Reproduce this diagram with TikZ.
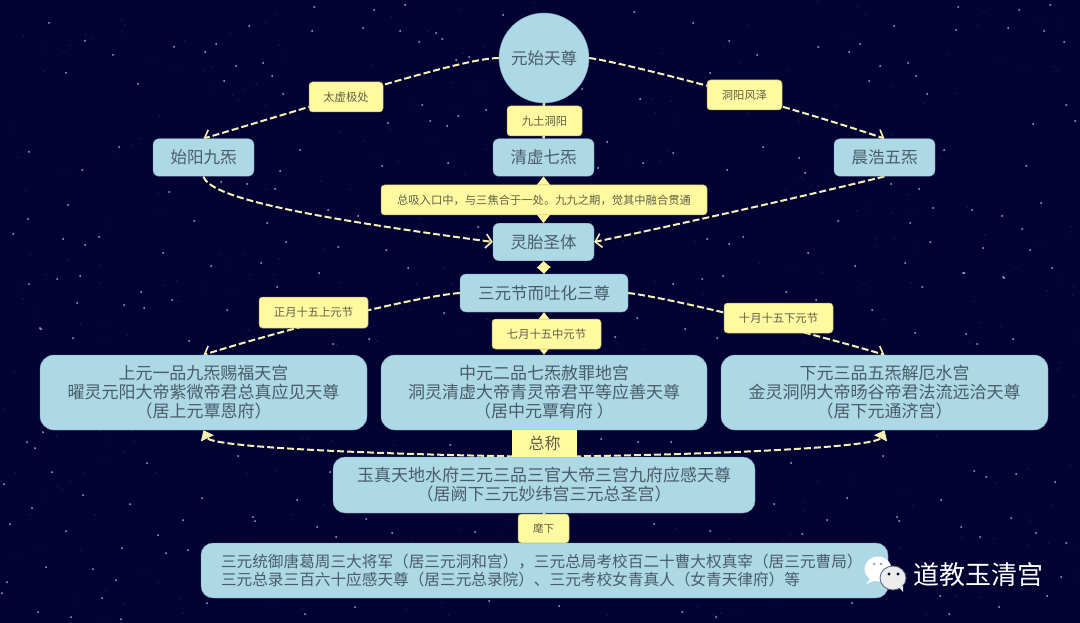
\documentclass[tikz,border=0pt]{standalone}
\usepackage{fontspec}
\setmainfont{Noto Sans CJK SC}
\usetikzlibrary{arrows.meta}
\definecolor{skyc}{HTML}{020233}
\definecolor{boxblue}{HTML}{ADD8E6}
\definecolor{boxedge}{HTML}{7F9FB0}
\definecolor{labelyel}{HTML}{FFF9A0}
\definecolor{labeledge}{HTML}{B8AC70}
\definecolor{linecream}{HTML}{F6F0B4}
\definecolor{txtblue}{HTML}{4A5C68}
\definecolor{txtyel}{HTML}{5F6048}
\definecolor{starc}{HTML}{D5D8F2}
\definecolor{starfaint}{HTML}{1C1C50}
\pgfdeclarelayer{conn}
\pgfsetlayers{conn,main}
\tikzset{
  blueshape/.style={fill=boxblue,draw=boxedge,line width=.4pt,text=txtblue,inner sep=0pt,align=center},
  smallbox/.style={blueshape,rectangle,rounded corners=6pt,minimum width=101pt,minimum height=37.5pt,font=\fontsize{16.5}{19}\selectfont},
  bigbox/.style={blueshape,rectangle,rounded corners=14pt,minimum height=75pt,font=\fontsize{17}{19}\selectfont},
  lowbox/.style={blueshape,rectangle,rounded corners=12pt,font=\fontsize{17}{19}\selectfont},
  tag/.style={rectangle,rounded corners=3.5pt,fill=labelyel,draw=labeledge,line width=.5pt,text=txtyel,inner sep=0pt,align=center,minimum height=30pt,font=\fontsize{11.3}{13}\selectfont},
  flow/.style={draw=linecream,line width=2pt,dash pattern=on 7pt off 3pt,-{Straight Barb[length=6pt,width=14pt,line width=1.6pt]}},
  upflow/.style={draw=linecream,line width=2pt,dash pattern=on 7pt off 3pt,-{Triangle[length=9pt,width=14pt,fill=labelyel]}},
  stem/.style={draw=linecream,line width=2.5pt},
  twotip/.style={draw=labelyel,line width=1pt,{Triangle[length=9pt,width=14pt,fill=labelyel]}-{Triangle[length=9pt,width=14pt,fill=labelyel]}},
  diamondtip/.style={draw=labelyel,line width=1pt,{Triangle[length=7pt,width=14pt,fill=labelyel]}-{Triangle[length=7pt,width=14pt,fill=labelyel]}},
  bright/.style={fill=starc,draw=none},
  faint/.style={fill=starfaint,draw=none}
}
\begin{document}
\begin{tikzpicture}[x=1pt,y=-1pt]
\useasboundingbox (0,0) rectangle (1080,623);

% nodes
\node[blueshape,circle,minimum size=90pt,font=\fontsize{16.5}{19}\selectfont] (top) at (544,58) {元始天尊};
\node[smallbox] (shi) at (203.5,157.5) {始阳九炁};
\node[smallbox] (qing) at (543.5,157.5) {清虚七炁};
\node[smallbox] (chen) at (884.5,157.5) {晨浩五炁};
\node[smallbox] (ling) at (543.5,242) {灵胎圣体};
\node[blueshape,rectangle,rounded corners=6pt,minimum width=168pt,minimum height=38pt,font=\fontsize{16.5}{19}\selectfont] (san) at (544,293) {三元节而吐化三尊};

\node[tag,minimum width=74pt] (taixu) at (346,97) {太虚极处};
\node[tag,minimum width=75pt] (jiutu) at (544.5,121) {九土洞阳};
\node[tag,minimum width=75pt] (dongyang) at (744.5,95) {洞阳风泽};
\node[tag,minimum width=326pt] (zongxi) at (544,200) {总吸入口中，与三焦合于一处。九九之期，觉其中融合贯通};
\node[tag,minimum width=109pt,minimum height=31pt] (zheng) at (313.5,312.5) {正月十五上元节};
\node[tag,minimum width=109pt] (qi) at (546.5,334) {七月十五中元节};
\node[tag,minimum width=109pt] (shiyue) at (778.5,318) {十月十五下元节};

\node[bigbox,minimum width=327pt] (upper) at (203.5,392.5) {\rule{0pt}{1pt}上元一品九炁赐福天宫\\曜灵元阳大帝紫微帝君总真应见天尊\\（居上元覃恩府）};
\node[bigbox,minimum width=326pt] (middle) at (544,392.5) {\rule{0pt}{1pt}中元二品七炁赦罪地宫\\洞灵清虚大帝青灵帝君平等应善天尊\\（居中元覃宥府 ）};
\node[bigbox,minimum width=327pt] (lower) at (884.5,392.5) {\rule{0pt}{1pt}下元三品五炁解厄水宫\\金灵洞阴大帝旸谷帝君法流远洽天尊\\（居下元通济宫）};

\node[lowbox,minimum width=422pt,minimum height=56pt] (yuzhen) at (544,485) {玉真天地水府三元三品三官大帝三宫九府应感天尊\\（居阙下三元妙纬宫三元总圣宫）};
\node[rectangle,fill=labelyel,text=txtyel,inner sep=0pt,minimum width=65pt,minimum height=27pt,font=\fontsize{16}{18}\selectfont] (zongcheng) at (544.5,443.5) {总称};
\node[tag,minimum width=51pt,minimum height=29pt,font=\fontsize{10.5}{12}\selectfont] (huixia) at (543.5,528.5) {麾下};
\node[lowbox,inner xsep=20pt,inner ysep=0pt,text width=647pt,align=left,minimum height=55pt,font=\fontsize{15.65}{18.3}\selectfont] (bottom) at (544.5,570.5) {三元统御唐葛周三大将军（居三元洞和宫），三元总局考校百二十曹大权真宰（居三元曹局）\\三元总录三百六十应感天尊（居三元总录院）、三元考校女青真人（女青天律府）等};

% watermark
\fill[white] (878,569) ellipse (13.5pt and 12.5pt);
\fill[white] (870,579) -- (866,584) -- (875,580.5) -- cycle;
\fill[white!85!gray] (893,578) ellipse (13pt and 12pt);
\draw[skyc!55!boxblue,line width=.8pt] (893,578) ellipse (13pt and 12pt);
\fill[white!85!gray] (899,587) -- (903,592) -- (903,586) -- cycle;
\fill[gray!70] (874,564) circle (1.5pt) (881,564) circle (1.5pt);
\fill[skyc] (889,574) circle (1.7pt) (898,574) circle (1.7pt);
\node[text=white,inner sep=0pt,font=\fontsize{26}{30}\selectfont] (mark) at (978,575) {道教玉清宫};

% sky and connectors, below the nodes
\begin{pgfonlayer}{conn}
\fill[skyc] (0,0) rectangle (1080,623);
\pgfmathsetseed{4217}
\foreach \n in {1,...,420}{
  \pgfmathsetmacro{\sx}{random(0,1080)}
  \pgfmathsetmacro{\sy}{random(0,623)}
  \fill[faint] (\sx,\sy) circle (.8pt);
}
\foreach \sx/\sy in {
174/47,205/52,216/44,249/26,263/63,236/66,224/81,272/76,283/94,312/31,314/7,363/28,374/10,400/31,405/5,419/42,436/33,442/39,456/60,469/57,503/15,422/105,486/110,458/116,430/121,447/126,388/123,300/150,382/166,448/163,280/171,247/184,221/182,169/192,275/189,194/221,267/223,286/242,338/247,386/250,163/253,358/216,328/210,478/227,
634/12,693/23,729/41,757/55,818/47,849/52,860/44,894/26,908/63,880/66,869/81,916/76,927/94,710/73,640/99,582/89,607/142,763/147,799/158,805/173,727/170,643/163,598/168,673/153,891/184,919/189,933/208,838/221,910/223,743/237,707/239,729/244,808/253,930/242,
211/266,261/263,319/273,277/287,141/292,172/300,227/310,144/308,73/338,40/328,369/339,333/344,189/341,408/268,444/313,43/432,238/456,35/448,
855/266,905/263,963/273,922/287,786/292,816/300,872/310,723/276,673/284,702/279,1003/277,1052/268,915/333,966/334,1013/339,977/344,685/329,717/338,637/318,615/337,601/439,638/442,671/442,883/456,
330/472,202/498,297/500,253/517,255/521,317/527,336/537,392/533,475/532,366/519,450/445,207/603,305/614,355/607,489/601,559/606,
791/463,974/471,986/477,1016/474,1055/482,847/498,941/500,774/504,897/517,899/521,961/527,980/537,1011/518,1036/533,827/520,802/534,710/531,654/524,1061/577,1047/596,940/596,999/607,949/614,852/603,682/612,716/617,1066/543,
49/23,85/41,113/55,66/73,138/84,29/152,119/147,82/170,68/205,28/219,13/234,63/239,99/237,85/245,80/276,57/279,29/284,77/303,124/305,41/329,
958/7,1019/10,1050/5,956/30,1008/28,1044/31,1064/42,1066/105,1075/121,1033/124,944/150,1026/166,1041/203,972/210,1002/216,1022/229,1030/250,983/248,964/273,1004/278,
27/442,52/472,147/463,4/484,83/495,130/504,32/508,10/524,66/531,183/520,158/535,122/548,166/553,188/550,46/567,93/569,116/580,7/582,2/593,102/598,38/612,71/617,121/619}{
  \fill[starc,opacity=.2] (\sx,\sy) circle (1.5pt);
  \fill[bright] (\sx,\sy) circle (.75pt);
}

\draw[flow] (top.west) .. controls (465,58) and (350,95) .. (shi.north);
\draw[flow] (top.east) .. controls (620,62) and (770,100) .. (chen.north);
\draw[flow] (shi.south) .. controls (210,200) and (330,220) .. (ling.west);
\draw[flow] (chen.south) .. controls (830,190) and (700,220) .. (ling.east);
\draw[flow] (san.west) .. controls (420,296) and (300,325) .. (upper.north);
\draw[flow] (san.east) .. controls (670,298) and (800,330) .. (lower.north);
\draw[upflow] (yuzhen.north) .. controls (400,455) and (212,448) .. (upper.south);
\draw[upflow] (yuzhen.north) .. controls (700,455) and (876,448) .. (lower.south);
\draw[stem] (top.south) -- (qing.north);
\draw[twotip] (qing.south) -- (ling.north);
\draw[diamondtip] (ling.south) -- (san.north);
\draw[twotip] (san.south) -- (middle.north);
\draw[stem] (yuzhen.south) -- (bottom.north);
\end{pgfonlayer}
\end{tikzpicture}
\end{document}
